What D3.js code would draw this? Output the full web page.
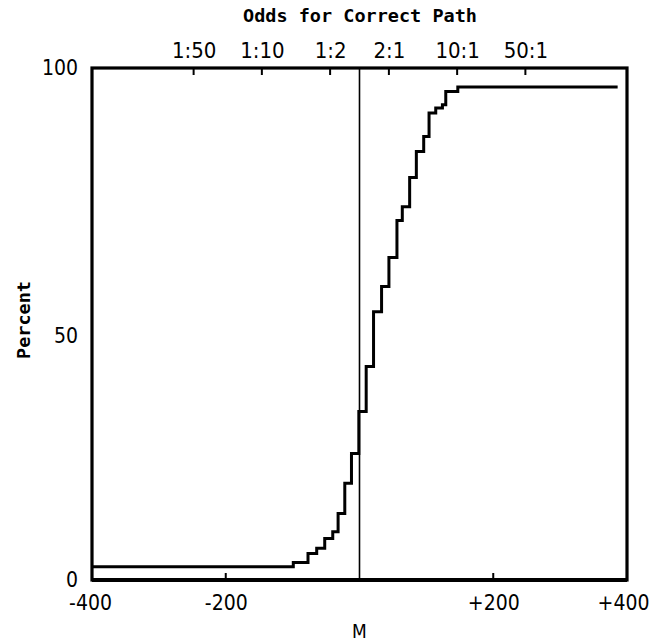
<!DOCTYPE html>
<html><head><meta charset="utf-8">
<script src="https://cdn.jsdelivr.net/npm/d3@7"></script>
<style>
body{margin:0;background:#fff;}
svg{display:block;}
text{fill:#000;}
</style></head>
<body><svg id="c" width="650" height="642"></svg>
<script>
// ---- data ----
const stepM   = [-400, -99, -77, -64, -52, -40, -32, -22, -12, -1, 10, 21, 33, 44, 56, 64, 75, 85, 96, 104, 114, 124, 129, 147];
const stepPct = [2.6, 3.4, 5.2, 6.2, 8.1, 9.4, 13.0, 18.9, 24.7, 32.9, 41.7, 52.4, 57.3, 63.0, 70.2, 72.9, 78.6, 83.7, 86.6, 91.2, 92.2, 92.8, 95.4, 96.3];
const endM = 386;
const xTicks = [-400, -200, 200, 400];
const xTickLabels = ["-400", "-200", "+200", "+400"];
const yTicks = [0, 50, 100];
const yTickLabels = ["0", "50", "100"];
const oddsTicks = [1/50, 1/10, 1/2, 2, 10, 50];
const oddsLabels = ["1:50", "1:10", "1:2", "2:1", "10:1", "50:1"];
const mPerDecade = 146;

const svg = d3.select("#c");
const L = 92, R = 627, T = 68, B = 580;
const x = d3.scaleLinear().domain([-400, 400]).range([L, R]);
const y = d3.scaleLinear().domain([0, 100]).range([B, T]);
const xo = d3.scaleLog().domain([Math.pow(10, -400/mPerDecade), Math.pow(10, 400/mPerDecade)]).range([L, R]);

const fontNarrow = "'Liberation Sans Narrow','DejaVu Sans Condensed','Liberation Sans',sans-serif";
const fontBold = "'DejaVu Sans Mono',monospace";

// frame
svg.append("rect").attr("x", L).attr("y", T).attr("width", R - L).attr("height", B - T)
  .attr("fill", "none").attr("stroke", "#000").attr("stroke-width", 3.2);
svg.append("line").attr("x1", L).attr("x2", R).attr("y1", B).attr("y2", B)
  .attr("stroke", "#000").attr("stroke-width", 4.2);

// zero line
svg.append("line").attr("x1", x(0)).attr("x2", x(0)).attr("y1", T).attr("y2", B)
  .attr("stroke", "#000").attr("stroke-width", 1.6);

// bottom axis (ticks inward)
const bAxis = d3.axisBottom(x).tickValues(xTicks).tickFormat((d, i) => xTickLabels[i]).tickSize(0).tickPadding(15);
const gB = svg.append("g").attr("transform", `translate(0,${B})`).call(bAxis);
gB.select(".domain").remove();
gB.selectAll("text").attr("font-family", fontNarrow).attr("font-size", 21).attr("fill", "#000")
  .attr("dx", d => d === 400 ? -4 : (d === -400 ? -2 : 0));
svg.selectAll(".btick").data([-200, 200]).join("line").attr("class", "btick")
  .attr("x1", d => x(d)).attr("x2", d => x(d)).attr("y1", B).attr("y2", B - 7)
  .attr("stroke", "#000").attr("stroke-width", 2);

// left axis
const lAxis = d3.axisLeft(y).tickValues(yTicks).tickFormat((d, i) => yTickLabels[i]).tickSize(0).tickPadding(14);
const gL = svg.append("g").attr("transform", `translate(${L},0)`).call(lAxis);
gL.select(".domain").remove();
gL.selectAll("text").attr("font-family", fontNarrow).attr("font-size", 21).attr("fill", "#000")
  .attr("dy", d => d === 50 ? "0.9em" : "0.32em");

// top odds axis (ticks inward)
const tAxis = d3.axisTop(xo).tickValues(oddsTicks).tickFormat((d, i) => oddsLabels[i]).tickSize(0).tickPadding(10);
const gT = svg.append("g").attr("transform", `translate(0,${T})`).call(tAxis);
gT.select(".domain").remove();
gT.selectAll("text").attr("font-family", fontNarrow).attr("font-size", 22).attr("fill", "#000");
svg.selectAll(".ttick").data(oddsTicks).join("line").attr("class", "ttick")
  .attr("x1", d => xo(d)).attr("x2", d => xo(d)).attr("y1", T).attr("y2", T + 7)
  .attr("stroke", "#000").attr("stroke-width", 2);

// curve (step function)
const pts = stepM.map((m, i) => [m, stepPct[i]]);
pts.push([endM, stepPct[stepPct.length - 1]]);
const line = d3.line().x(d => x(d[0])).y(d => y(d[1])).curve(d3.curveStepAfter);
svg.append("path").datum(pts).attr("d", line).attr("fill", "none")
  .attr("stroke", "#000").attr("stroke-width", 3).attr("stroke-linejoin", "miter");

// titles
svg.append("text").attr("x", 360).attr("y", 22).attr("text-anchor", "middle")
  .attr("font-family", fontBold).attr("font-weight", "bold").attr("font-size", 18.5)
  .text("Odds for Correct Path");
svg.append("text").attr("transform", "translate(30,320) rotate(-90)").attr("text-anchor", "middle")
  .attr("font-family", fontBold).attr("font-weight", "bold").attr("font-size", 18.5)
  .text("Percent");
svg.append("text").attr("x", x(0)).attr("y", 638).attr("text-anchor", "middle")
  .attr("font-family", fontNarrow).attr("font-size", 19).text("M");
</script></body></html>
